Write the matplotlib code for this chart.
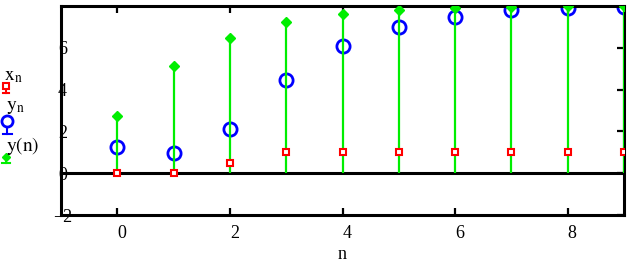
import matplotlib

matplotlib.use("Agg")
import matplotlib.pyplot as plt

plt.rcParams["font.family"] = ["Liberation Serif", "DejaVu Serif"]
plt.rcParams["mathtext.fontset"] = "stix"

# values
n = [0, 1, 2, 3, 4, 5, 6, 7, 8, 9]
x_n = [0, 0, 0.5, 1, 1, 1, 1, 1, 1, 1]
y_n = [1.24, 0.95, 2.1, 4.45, 6.1, 7.0, 7.48, 7.8, 7.9, 7.95]
y_of_n = [2.76, 5.13, 6.48, 7.24, 7.6, 7.83, 7.92, 7.96, 7.99, 8.0]

x_ticks = [0, 2, 4, 6, 8]
y_ticks = [-2, 0, 2, 4, 6]

RED = "#ff0000"
BLUE = "#0000ff"
GREEN = "#00ee00"

W, H = 633, 264
fig = plt.figure(figsize=(W / 100, H / 100), dpi=100)
ax = fig.add_axes([61 / W, 1 - 215 / H, (624 - 61) / W, (215 - 6) / H])

ax.set_xlim(-1, 9)
ax.set_ylim(-2, 8)

# zero line
ax.axhline(0, color="black", lw=2.2, zorder=1)

# y(n) as green stems with diamond heads
ax.vlines(n, 0, y_of_n, color=GREEN, lw=1.6, zorder=3)
ax.plot(n, y_of_n, ls="none", marker="D", ms=5, color=GREEN, zorder=4)

# y_n blue open circles
ax.plot(n, y_n, ls="none", marker="o", ms=9.5, mfc="none", mec=BLUE, mew=2.0,
        zorder=2)

# x_n red open squares
ax.plot(n, x_n, ls="none", marker="s", ms=5, mfc="white", mec=RED, mew=1.5,
        zorder=5)

for side in ax.spines.values():
    side.set_linewidth(2.2)

ax.set_xticks(x_ticks)
ax.set_yticks(y_ticks)
ax.set_yticklabels(["\u22122", "0", "2", "4", "6"])
ax.tick_params(axis="x", direction="in", length=5, width=1.6, top=True,
               labelsize=13, pad=7)
ax.tick_params(axis="y", direction="in", length=5, width=1.6, left=False,
               right=True, labelsize=13, pad=-1)
for lbl in ax.get_yticklabels():
    lbl.set_horizontalalignment("center")
for lbl in ax.get_xticklabels():
    lbl.set_horizontalalignment("left")

ax.set_xlabel("n", fontsize=13, labelpad=3)

# legend drawn in pixel coordinates on an overlay
lg = fig.add_axes([0, 0, 1, 1], zorder=-1)
lg.set_xlim(0, W)
lg.set_ylim(H, 0)
lg.axis("off")

lg.text(4, 76, r"$\mathrm{x_n}$", fontsize=14, va="center", ha="left")
lg.plot([5.5, 5.5], [86, 93], color=RED, lw=1.5)
lg.plot([3, 9], [93, 93], color=RED, lw=1.5)
lg.plot([5.5], [86], marker="s", ms=4.5, mfc="white", mec=RED, mew=1.5)

lg.text(6, 108, r"$\mathrm{y_n}$", fontsize=14, va="center", ha="left")
lg.plot([7, 7], [120, 134], color=BLUE, lw=1.5)
lg.plot([3, 12], [134, 134], color=BLUE, lw=1.5)
lg.plot([7], [120.5], marker="o", ms=8, mfc="white", mec=BLUE, mew=2.0)

lg.text(6, 146, r"$\mathrm{y(n)}$", fontsize=14, va="center", ha="left")
lg.plot([6, 6], [157, 163], color=GREEN, lw=1.5)
lg.plot([2, 10], [163, 163], color=GREEN, lw=1.5)
lg.plot([6], [157], marker="D", ms=4.5, color=GREEN)

fig.savefig("out.png", dpi=100)
